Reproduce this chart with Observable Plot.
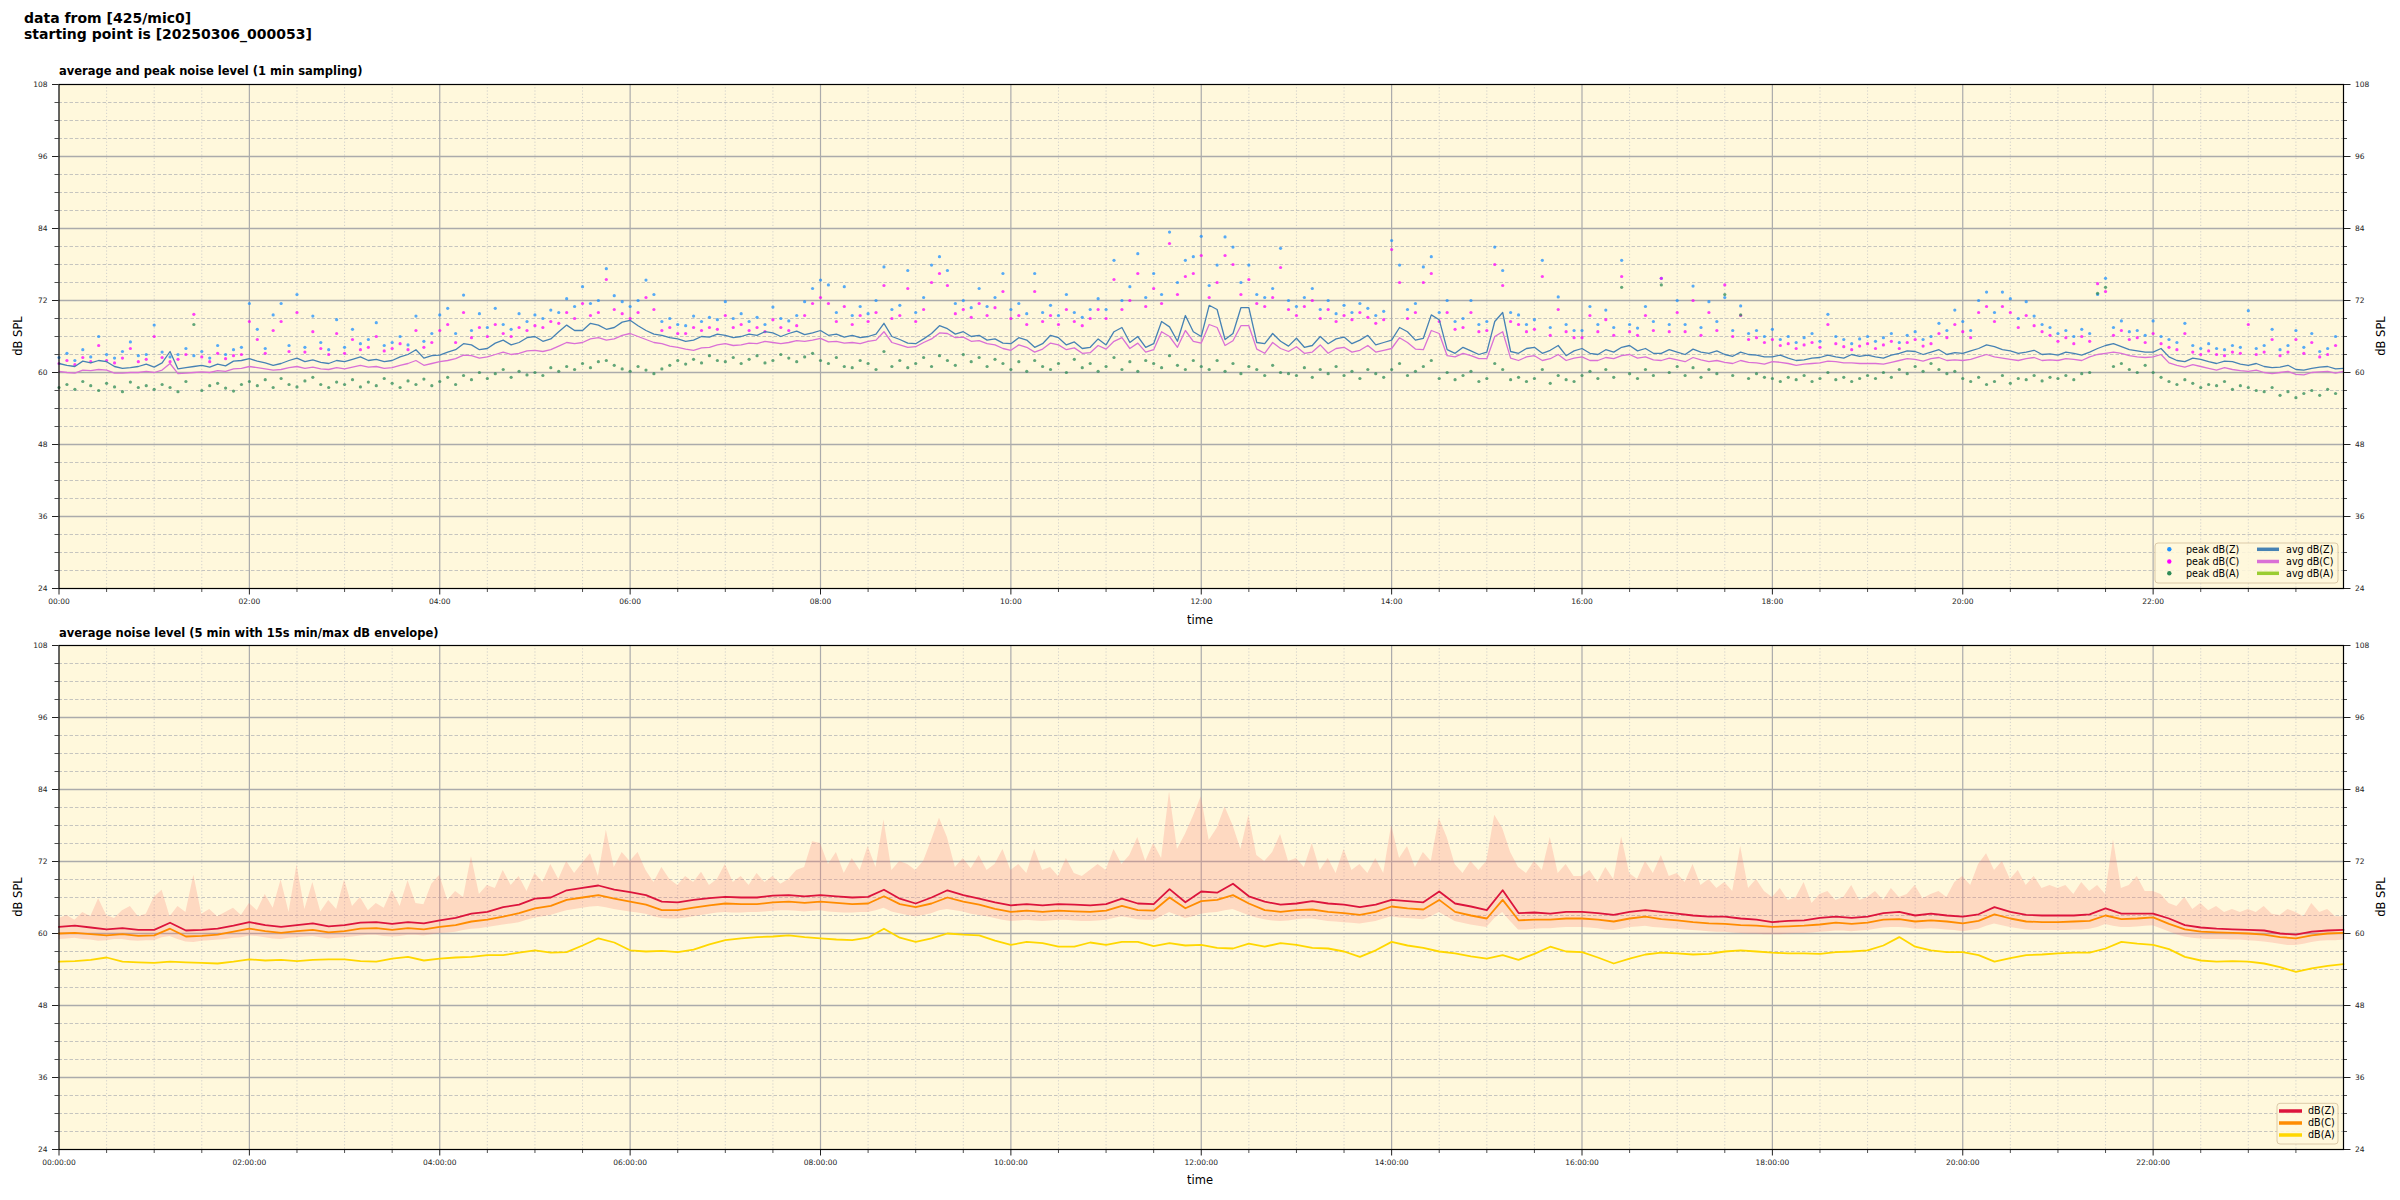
<!DOCTYPE html>
<html><head><meta charset="utf-8">
<script src="https://cdn.jsdelivr.net/npm/d3@7"></script>
<script src="https://cdn.jsdelivr.net/npm/@observablehq/plot@0.6"></script>
<style>
html,body{margin:0;padding:0;background:#fff;}
#page{position:relative;width:2400px;height:1200px;overflow:hidden;font-family:"DejaVu Sans",sans-serif;}
#page svg{position:absolute;left:0;max-width:none;}
</style></head><body><div id="page"></div>
<script>
// ---- data: top panel (1 min sampling), avg lines and peaks read every 5 min ----
const avgZ = [61.5,61.2,61.0,61.9,61.6,62.0,61.8,61.0,60.7,60.8,61.0,61.4, 60.9,61.6,63.5,60.6,60.8,61.0,61.2,60.9,61.4,61.1,61.9,62.0, 62.3,61.9,61.6,61.2,61.5,62.0,62.4,61.8,62.1,61.7,61.5,62.0, 61.8,62.2,62.6,62.0,62.2,61.8,62.0,62.6,63.0,63.8,62.4,62.8, 62.9,63.4,63.8,64.8,64.6,63.8,64.0,64.9,65.4,64.6,65.0,65.8, 66.0,65.2,65.6,66.8,67.9,67.0,67.0,68.2,67.9,67.2,67.5,68.4, 68.7,67.8,67.0,66.4,66.2,65.8,65.6,65.2,65.4,66.0,65.9,66.4, 66.2,65.8,66.0,66.4,66.2,66.8,66.6,66.0,66.5,66.9,66.3,66.6, 67.0,66.2,66.4,65.9,66.2,65.8,66.0,66.4,68.2,66.0,65.5,64.9, 64.8,65.6,66.5,67.8,67.3,66.4,66.8,66.0,66.2,65.4,65.6,64.9, 64.8,65.8,65.4,64.2,64.8,66.2,65.8,64.6,65.1,64.0,64.2,65.6, 64.6,66.8,67.5,65.0,66.0,64.2,64.8,68.5,67.6,65.2,69.5,66.8, 66.0,71.2,70.5,65.5,66.5,70.8,70.8,65.0,64.8,66.5,65.2,64.4, 65.7,64.2,64.5,66.0,64.8,65.6,65.9,64.8,65.4,66.2,64.6,65.0, 65.4,67.5,66.8,65.4,65.7,69.6,68.8,63.8,63.2,64.2,63.6,63.0, 63.4,68.5,70.0,63.5,63.2,64.0,64.2,63.2,63.7,64.5,62.8,63.6, 64.0,63.2,63.0,63.8,63.4,64.2,64.5,63.6,64.0,63.2,63.2,63.8, 63.4,63.0,63.9,63.4,63.2,63.6,63.0,62.7,63.4,63.0,62.9,62.6, 62.6,62.9,62.4,62.0,62.1,62.4,62.5,62.9,62.6,62.4,63.0,62.7, 62.9,62.6,62.4,62.9,63.2,63.6,63.5,63.0,63.4,63.8,63.0,63.3, 63.2,63.6,64.0,64.6,64.3,63.8,63.6,63.2,63.4,63.7,63.0,63.1, 62.9,63.4,63.2,62.9,63.4,64.0,64.5,64.8,64.3,63.8,63.6,63.4, 63.4,64.0,62.6,62.0,61.8,62.4,62.2,61.8,61.5,61.9,61.8,61.4, 61.2,61.5,61.0,60.8,60.9,61.2,60.5,60.4,60.7,60.9,61.0,60.6, 60.7];
const avgC = [60.2,60.0,59.9,60.4,60.3,60.5,60.4,59.9,59.9,60.0,60.0,60.2, 60.0,60.4,61.5,59.8,59.9,60.0,60.1,60.0,60.3,60.2,60.6,60.7, 61.0,60.8,60.6,60.4,60.5,60.8,61.0,60.7,60.9,60.6,60.5,60.8, 60.6,60.9,61.2,60.9,61.0,60.7,60.8,61.2,61.5,62.0,61.2,61.5, 61.8,62.0,62.3,62.9,62.8,62.4,62.6,63.0,63.4,63.0,63.2,63.6, 63.7,63.5,63.8,64.4,65.0,64.8,65.0,65.6,65.8,65.4,65.6,66.2, 66.5,66.0,65.5,65.0,64.8,64.4,64.2,63.9,63.7,64.1,64.2,64.6, 64.8,64.5,64.6,64.9,64.8,65.2,65.0,64.8,65.0,65.3,65.2,65.4, 65.7,65.1,65.2,64.9,65.0,64.8,65.2,65.4,66.8,65.0,64.6,64.2, 64.3,65.0,65.6,66.6,66.5,65.8,65.9,65.2,65.3,64.8,64.6,64.0, 63.7,64.6,64.2,63.4,63.9,64.9,64.6,63.8,64.1,63.2,63.3,64.5, 63.9,65.2,65.8,64.0,64.9,63.4,63.8,66.8,66.0,64.2,67.0,65.2, 64.9,68.0,67.5,64.5,65.3,67.8,67.8,63.9,63.2,65.0,64.0,63.5, 64.3,63.2,63.4,64.6,63.2,64.0,64.2,63.4,63.7,64.5,63.4,63.7, 64.0,65.8,65.0,63.9,63.8,67.0,66.5,62.8,62.6,63.2,62.8,62.3, 62.3,66.0,66.8,62.4,62.0,62.6,62.8,62.0,62.3,63.0,62.0,62.4, 62.6,62.0,62.0,62.5,62.3,62.8,63.0,62.4,62.6,62.1,62.0,62.4, 62.1,61.8,62.5,62.1,61.8,62.0,61.7,61.5,62.0,61.7,61.6,61.4, 61.8,61.7,61.5,61.2,61.4,61.5,61.6,61.9,61.8,61.6,61.6,61.5, 61.5,61.5,61.4,61.7,62.0,62.3,62.2,61.9,62.3,62.5,62.0,62.1, 62.0,62.2,62.6,63.0,62.6,62.4,62.2,62.0,62.3,62.5,62.0,62.1, 62.0,62.3,62.2,62.0,62.6,63.0,63.2,63.4,63.2,62.8,62.6,62.5, 62.6,63.0,61.6,61.2,60.9,61.3,61.0,60.7,60.4,60.8,60.5,60.3, 60.2,60.4,60.0,59.8,60.0,60.2,59.7,59.6,60.0,60.1,60.2,59.9, 60.2];
const avgA = [55.1,55.6,55.3,55.0,56.0,55.8,55.6,55.2,55.4,55.8,55.0,55.3, 54.8,55.2,55.6,55.9,55.4,54.9,55.0,55.4,55.1,54.8,55.5,55.8, 56.2,55.8,56.0,56.3,55.7,55.5,56.0,55.6,55.4,55.2,55.8,56.0, 55.7,55.3,55.5,56.0,55.1,55.4,56.0,55.7,55.4,55.9,55.7,56.1, 56.0,55.6,55.8,56.4,56.2,56.8,56.6,57.0,57.3,56.8,57.0,57.4, 57.0,57.4,57.5,57.0,57.3,57.8,58.2,58.8,59.5,59.0,58.6,57.8, 57.6,57.8,57.4,56.9,56.8,56.9,57.0,58.2,59.3,59.6,59.5,59.2, 59.5,59.8,59.7,59.4,59.8,60.0,59.4,59.6,59.8,59.5,59.3,59.6, 59.4,59.0,59.2,59.5,59.0,59.4,59.3,59.0,61.5,59.5,58.6,58.4, 58.7,59.4,59.5,60.3,60.1,59.8,60.0,59.5,59.6,58.8,58.8,59.2, 57.6,58.4,59.8,58.8,59.3,58.0,58.6,59.4,57.9,58.2,59.0,58.5, 58.2,57.5,59.2,58.0,57.6,58.8,58.5,57.8,59.5,58.2,57.6,57.0, 57.0,58.6,58.3,57.8,58.2,57.2,57.5,58.4,57.9,57.2,58.5,57.8, 57.3,58.0,57.0,56.5,56.8,57.5,57.6,58.0,57.9,56.8,57.5,57.9, 58.0,57.5,57.2,56.8,57.0,57.8,57.6,56.5,56.2,57.2,56.8,56.2, 57.0,57.8,57.5,56.6,56.8,56.2,56.2,56.8,56.2,55.8,56.6,57.2, 57.6,56.5,55.8,56.6,56.8,57.2,57.0,58.4,58.4,57.2,57.0,56.6, 56.8,57.4,57.3,56.9,57.0,57.4,56.8,57.2,57.0,56.8,57.2,57.0, 56.8,57.0,57.0,56.6,56.8,57.1,57.2,56.9,56.8,56.6,56.6,56.9, 56.8,57.2,57.4,57.8,57.6,58.5,58.2,58.6,59.0,58.2,57.8,57.2, 56.8,56.6,56.4,55.8,55.4,55.3,55.6,56.2,56.8,57.0,57.0,56.8, 57.0,56.6,56.8,57.0,56.8,57.6,58.5,59.8,59.3,58.6,58.0,58.4, 58.2,57.6,56.6,56.2,56.0,56.4,56.4,56.0,56.0,55.6,55.8,55.4, 55.1,55.8,55.6,55.0,54.8,54.2,53.4,53.2,54.2,54.6,54.6,54.9, 54.8];
const peakZ = [62.5,63.2,62.0,63.8,62.6,66.0,63.0,62.4,63.5,65.1,62.8,63.0, 67.9,63.4,62.6,63.0,64.0,62.8,63.5,62.4,64.5,63.0,63.8,64.2, 71.5,67.2,64.0,69.6,71.5,64.5,73.0,64.2,69.4,65.0,63.8,68.8, 64.2,67.2,64.8,65.5,68.3,64.5,65.0,66.0,64.6,69.4,65.2,66.5, 69.6,70.7,66.5,72.9,67.0,69.8,67.5,70.7,68.0,67.2,69.8,68.5, 69.6,69.0,70.4,70.0,72.3,71.0,74.3,71.5,72.0,77.3,72.8,71.8, 71.0,72.0,75.4,73.0,68.5,69.0,68.0,67.8,69.4,68.5,69.2,68.8, 71.8,69.0,69.8,68.5,69.2,68.0,70.9,69.0,68.6,69.5,71.8,74.0, 75.4,74.6,70.0,74.3,69.5,71.0,69.8,72.0,77.6,70.5,71.2,77.0, 70.0,72.5,77.9,79.3,77.0,71.5,72.0,70.8,74.0,71.0,72.5,76.5, 70.5,71.5,69.8,76.5,70.0,71.2,69.5,73.0,70.0,69.2,70.5,72.3, 70.5,78.7,72.0,74.3,79.8,72.5,76.5,73.0,83.4,75.0,78.7,79.3, 82.7,74.5,77.9,82.6,80.9,75.0,77.9,73.0,72.5,74.0,80.7,72.0, 71.0,72.5,74.0,70.5,72.0,69.8,71.2,70.0,71.5,70.7,69.5,70.2, 82.0,77.9,70.5,71.5,77.6,79.3,70.0,72.0,68.5,69.0,72.0,68.0, 68.5,80.9,77.0,70.0,69.6,68.0,68.8,78.7,67.5,72.6,68.0,67.0, 67.0,71.0,68.0,70.4,67.5,78.7,68.0,67.4,71.0,68.5,75.7,68.0, 72.0,68.0,74.4,67.5,71.8,68.5,72.5,67.0,71.1,66.5,67.0,66.0, 67.2,65.5,66.0,65.0,65.8,66.5,65.2,69.7,66.0,65.5,64.8,65.6, 66.0,65.2,65.8,66.5,65.0,66.2,66.8,65.5,66.0,68.2,67.0,70.4, 68.5,67.0,72.0,73.4,70.0,73.4,72.3,69.0,71.8,69.4,68.0,67.5, 66.5,67.0,66.0,67.2,66.5,73.0,75.7,67.5,68.6,66.8,67.0,66.2, 68.6,66.0,65.5,65.0,68.2,64.5,64.0,64.8,64.0,63.8,64.5,64.2, 70.3,64.0,64.5,67.2,63.8,64.5,67.0,64.2,66.5,63.5,64.0,66.0];
const peakC = [61.5,62.0,61.3,62.5,61.8,64.5,62.0,61.6,62.4,64.0,61.8,62.2, 66.0,62.5,61.8,62.2,63.0,69.7,62.6,61.8,63.2,62.3,62.8,63.0, 68.5,65.5,63.2,67.0,68.5,63.5,70.0,63.4,66.8,64.0,63.0,66.5, 63.2,65.5,63.8,64.2,66.0,63.6,64.0,64.8,63.8,67.0,64.2,65.0, 67.0,68.0,65.0,70.0,65.8,67.5,66.0,68.0,66.5,66.0,67.5,67.0, 67.8,67.5,68.5,68.2,70.0,69.0,71.5,69.5,70.0,75.5,70.5,69.8, 69.0,70.0,72.5,70.5,67.0,67.5,66.5,66.5,67.5,67.0,67.5,67.2, 69.5,67.5,68.0,67.0,67.5,66.8,68.8,67.5,67.0,67.8,69.5,71.5, 72.5,71.5,68.5,71.0,68.0,69.5,68.5,70.0,74.5,69.0,69.5,74.0, 68.5,70.5,75.0,76.5,74.5,69.8,70.5,69.2,71.5,69.5,70.8,73.5, 69.0,69.5,68.0,73.5,68.5,69.5,68.0,70.5,68.5,67.8,69.0,70.5, 69.0,75.5,70.5,72.0,76.5,71.0,74.0,71.5,81.5,73.0,76.0,76.5, 79.5,72.5,75.0,79.5,78.0,73.0,75.5,71.5,71.0,72.5,77.5,70.5, 69.5,71.0,72.0,69.0,70.5,68.5,69.5,68.8,70.0,69.2,68.2,68.8, 80.5,75.0,69.0,70.0,75.0,76.5,68.5,70.0,67.2,67.5,70.0,66.8, 67.0,78.0,74.5,68.5,68.0,66.8,67.2,76.0,66.2,70.5,66.8,65.8, 65.8,69.5,66.8,68.8,66.2,76.0,66.8,66.2,69.5,67.0,75.7,66.8, 70.0,66.8,72.0,66.2,70.0,67.0,74.6,66.0,69.5,65.5,65.8,65.0, 65.5,64.5,64.8,64.0,64.6,65.0,64.2,68.0,64.8,64.3,63.8,64.4, 64.8,64.0,64.6,65.2,64.0,65.0,65.5,64.4,64.8,66.5,65.8,68.0, 66.8,65.8,70.0,71.0,68.5,71.0,70.0,67.5,69.5,67.8,66.8,66.2, 65.2,65.8,64.8,66.0,65.2,74.8,73.5,66.2,67.0,65.5,65.8,65.0, 66.5,64.8,64.2,63.8,66.5,63.4,63.0,63.6,63.0,62.8,63.4,63.2, 68.0,63.0,63.4,65.5,62.8,63.4,65.5,63.2,65.0,62.6,63.0,64.5];
const peakA = [57.5,58.0,57.2,58.5,57.8,57.0,58.2,57.6,56.8,58.4,57.5,57.8, 57.2,58.0,57.5,56.8,58.5,68.0,57.0,57.8,58.2,57.4,56.9,58.0, 58.5,57.8,58.8,57.5,59.0,58.0,57.6,58.6,59.2,58.0,57.5,58.4, 58.0,58.8,57.6,58.4,57.8,59.0,58.2,57.5,58.6,58.0,58.9,57.8, 58.5,59.2,58.0,59.5,58.8,60.0,59.0,59.8,60.5,59.2,60.2,59.6, 60.0,59.5,60.8,60.2,61.0,60.5,61.5,60.8,61.8,62.0,61.2,60.6, 60.2,61.0,60.4,59.8,60.6,61.2,62.0,61.4,62.2,61.6,62.8,62.0, 61.8,62.5,61.5,62.2,62.8,61.6,62.0,63.0,62.4,61.8,62.6,63.2, 62.0,61.5,62.5,61.0,60.8,62.0,61.5,60.5,63.5,61.0,62.0,60.8, 61.5,62.5,61.0,62.8,62.0,61.2,63.0,61.8,62.5,61.0,62.2,61.5, 60.5,61.8,60.2,62.0,61.0,60.5,61.5,60.0,62.2,60.8,61.5,60.2, 61.0,62.5,60.5,61.8,60.2,62.0,61.5,60.8,62.8,61.2,60.5,62.0, 61.0,60.5,62.0,60.2,61.5,59.8,61.0,60.5,59.5,61.2,60.0,59.8, 59.5,60.8,59.2,60.5,59.8,61.0,59.5,60.2,59.0,60.5,59.8,59.2, 60.5,61.5,59.5,60.2,61.0,62.0,59.0,60.0,58.8,59.5,60.2,58.5, 59.0,61.5,60.5,58.8,59.2,58.5,59.0,60.5,58.2,59.5,58.8,58.5, 59.5,60.2,59.0,60.5,59.2,74.2,59.8,59.0,60.5,59.5,74.6,60.0, 61.0,59.5,60.8,59.2,60.5,59.8,73.0,59.5,69.6,59.0,59.8,59.2, 59.0,58.5,59.2,58.8,59.5,58.5,59.0,60.0,58.8,59.2,58.5,59.0, 59.5,59.0,60.0,59.2,60.5,59.8,61.0,60.2,61.5,60.5,59.8,60.2, 59.0,58.5,59.2,58.0,58.5,59.5,58.2,59.0,58.8,59.5,58.6,59.2, 59.0,59.5,58.8,59.8,60.0,73.2,74.2,61.0,61.5,60.5,60.0,61.2, 60.0,59.2,58.5,58.0,58.8,58.2,57.5,58.0,57.8,58.5,57.2,57.8, 57.5,57.0,56.8,57.5,56.2,56.8,55.8,56.5,57.0,56.2,57.2,56.5];

// ---- data: bottom panel (5 min average, read every 10 min; 15 s min/max envelope read every 5 min) ----
const avg5Z = [61.1,61.3,61.0,60.7,60.9,60.6, 60.6,61.8,60.5,60.6,60.8,61.3, 61.9,61.4,61.1,61.4,61.7,61.2, 61.4,61.8,61.9,61.6,61.9,61.7, 62.2,62.6,63.3,63.6,64.4,64.8, 65.8,66.0,67.2,67.6,68.0,67.3, 66.9,66.4,65.3,65.2,65.6,65.9, 66.1,66.0,66.0,66.3,66.4,66.2, 66.4,66.2,66.0,66.1,67.3,65.8, 65.0,66.0,67.2,66.4,65.8,65.2, 64.7,64.9,64.7,64.9,64.8,64.7, 64.9,65.8,65.0,64.9,67.4,65.2, 67.0,66.8,68.3,66.2,65.3,64.8, 65.0,65.4,65.0,64.8,64.4,64.8, 65.6,65.4,65.2,67.0,65.0,64.5, 63.9,67.2,63.4,63.5,63.3,63.6, 63.6,63.4,63.1,63.6,63.9,63.6, 63.3,63.0,62.8,62.8,62.5,62.3, 61.9,62.1,62.2,62.6,62.8,62.6, 62.8,63.4,63.6,63.0,63.3,63.0, 62.8,63.2,64.4,63.6,63.1,63.0, 63.0,63.0,63.2,64.2,63.3,63.3, 63.3,62.5,61.4,61.0,60.8,60.7, 60.6,60.5,60.0,59.8,60.3,60.5, 60.6];
const avg5C = [60.0,60.1,59.9,59.7,59.9,59.6, 59.7,60.8,59.5,59.6,59.8,60.3, 60.8,60.4,60.1,60.4,60.6,60.2, 60.4,60.8,60.9,60.6,60.9,60.7, 61.1,61.4,62.0,62.3,62.8,63.4, 64.2,64.6,65.6,66.0,66.4,65.8, 65.3,64.8,63.9,63.9,64.3,64.7, 65.0,64.9,64.9,65.2,65.3,65.1, 65.3,65.1,64.9,65.0,66.2,64.9, 64.4,65.0,66.0,65.3,64.8,64.1, 63.6,63.8,63.6,63.8,63.7,63.6, 63.8,64.6,63.9,63.8,66.0,64.2, 65.4,65.6,66.4,65.0,63.9,63.6, 63.9,64.0,63.6,63.4,63.1,63.6, 64.5,64.2,64.0,65.6,63.6,63.0, 62.5,65.6,62.2,62.3,62.3,62.5, 62.5,62.3,62.0,62.5,62.8,62.4, 62.2,61.9,61.7,61.6,61.4,61.3, 61.1,61.2,61.3,61.5,61.8,61.6, 61.8,62.3,62.4,62.0,62.2,62.0, 61.7,62.1,63.2,62.5,62.0,61.9, 61.9,62.0,62.1,63.0,62.4,62.5, 62.7,61.6,60.7,60.3,60.2,60.1, 60.0,59.8,59.4,59.2,59.7,60.0, 60.1];
const avg5A = [55.3,55.4,55.6,56.0,55.3,55.2, 55.1,55.3,55.2,55.1,55.0,55.3, 55.7,55.5,55.6,55.4,55.6,55.7, 55.7,55.4,55.3,55.8,56.1,55.5, 55.8,56.0,56.1,56.4,56.4,56.8, 57.2,56.8,56.9,58.0,59.2,58.5, 57.2,57.0,57.1,56.9,57.3,58.2, 58.9,59.2,59.4,59.5,59.7,59.4, 59.2,59.0,58.9,59.3,60.8,59.3, 58.6,59.2,60.0,59.8,59.7,58.8, 58.1,58.6,58.4,57.8,57.8,58.5, 58.1,58.6,58.6,57.9,58.4,58.0, 58.1,57.6,57.5,58.3,57.8,58.4, 58.1,57.6,57.5,57.0,56.1,57.2, 58.6,58.0,57.6,57.0,56.7,56.2, 55.8,56.4,55.6,56.6,57.8,57.0, 56.9,56.0,55.0,55.8,56.5,56.8, 56.7,56.5,56.6,57.0,57.2,57.0, 56.8,56.7,56.7,56.6,56.9,57.0, 57.2,58.0,59.4,57.8,57.2,56.9, 56.9,56.4,55.3,55.9,56.4,56.5, 56.7,56.8,56.8,57.5,58.6,58.3, 58.1,57.4,56.1,55.5,55.3,55.4, 55.3,55.0,54.4,53.6,54.2,54.6, 54.9];
const envMax = [62.5,63.0,62.2,63.5,62.8,65.8,63.0,62.5,63.8,64.5,62.8,63.2, 66.0,67.2,62.8,64.5,63.5,69.7,63.2,64.0,62.8,63.5,64.2,63.0, 65.0,63.8,66.5,64.2,68.9,63.5,71.4,64.0,68.5,63.6,65.5,64.0, 68.9,64.5,66.0,63.8,65.0,64.2,67.2,64.5,68.8,65.0,64.8,68.2, 69.7,65.5,67.0,66.0,72.8,66.5,68.0,67.5,70.5,68.0,69.5,67.0, 70.0,68.5,71.5,69.0,72.0,70.0,71.7,73.3,69.5,77.2,71.0,73.5, 72.0,73.5,70.5,68.5,71.0,69.0,68.0,69.5,68.5,70.2,68.0,69.0, 71.5,68.5,69.5,68.0,70.0,68.5,69.5,68.2,69.0,70.5,71.0,75.3, 75.0,71.5,73.5,70.0,72.5,70.5,74.5,71.0,78.9,70.5,72.0,71.5, 70.5,72.0,75.5,79.2,76.0,71.0,72.5,70.8,73.0,70.5,71.5,74.0, 70.5,71.5,70.0,74.0,70.5,71.0,69.5,72.5,70.0,69.5,70.5,71.5, 70.5,74.0,71.5,73.0,76.0,72.0,75.0,72.5,83.6,74.0,76.5,79.5, 82.8,75.5,77.5,81.1,78.0,74.0,79.7,73.0,72.0,73.5,76.5,72.0, 72.5,71.0,75.0,70.5,72.5,70.0,74.0,70.5,71.5,70.0,72.5,70.0, 78.0,72.5,74.5,71.0,73.5,72.0,79.2,76.0,71.5,70.0,72.0,70.5, 72.0,79.7,77.5,73.5,71.0,70.0,72.0,70.5,76.0,70.0,71.5,69.5, 69.5,70.5,68.5,71.0,69.0,76.1,70.0,69.0,72.0,70.0,73.0,69.5, 70.0,68.5,71.5,68.0,69.0,67.5,68.5,67.0,74.5,67.5,69.0,67.0, 66.0,67.5,65.5,66.0,68.5,65.0,66.5,67.0,65.5,66.0,68.0,65.5, 66.0,67.0,65.5,67.5,66.0,66.5,68.0,65.8,66.5,67.0,66.0,68.5, 69.5,68.0,71.5,73.3,70.5,72.0,69.0,70.5,68.0,69.5,67.5,68.0, 67.5,68.0,66.5,68.5,67.0,68.0,66.5,75.6,67.5,68.0,69.5,67.0, 67.0,66.5,65.0,64.5,66.0,64.0,65.0,63.8,64.5,63.5,64.0,63.5, 64.0,63.5,64.5,63.2,63.0,64.0,63.5,62.8,65.0,63.5,64.0,62.8, 62.8];
const envMin = [59.0,59.1,59.2,59.0,58.9,58.7,58.8,59.0,59.0,58.8,58.7,58.8, 58.8,59.3,59.5,59.0,58.6,58.5,58.7,58.8,58.9,59.0,59.2,59.3, 59.6,59.5,59.3,59.1,59.0,59.2,59.3,59.4,59.5,59.3,59.1,59.2, 59.3,59.4,59.6,59.7,59.7,59.5,59.4,59.5,59.7,59.7,59.6,59.8, 60.0,60.1,60.2,60.5,60.7,60.8,61.0,61.2,61.4,61.6,61.8,62.2, 62.6,62.8,63.0,63.4,63.8,64.0,64.2,64.4,64.5,64.3,64.0,63.8, 63.6,63.4,63.2,62.8,62.5,62.4,62.4,62.6,62.8,63.0,63.2,63.4, 63.5,63.4,63.4,63.5,63.5,63.6,63.7,63.8,63.8,63.7,63.6,63.7, 63.8,63.6,63.5,63.4,63.4,63.5,63.5,63.8,64.2,63.6,63.3,63.0, 62.8,63.0,63.3,63.8,64.0,63.8,63.6,63.2,63.0,62.8,62.5,62.2, 62.0,62.1,62.2,62.1,62.0,62.1,62.2,62.2,62.1,62.0,62.0,62.1, 62.2,62.5,62.8,62.6,62.3,62.2,62.2,62.8,63.5,63.0,62.5,62.8, 63.2,63.4,63.5,63.8,64.0,63.5,63.0,62.6,62.3,62.1,62.0,62.1, 62.3,62.4,62.4,62.2,62.0,61.9,61.8,61.7,61.6,61.8,62.0,62.4, 62.8,62.6,62.5,62.4,62.3,62.8,63.5,62.8,62.0,61.7,61.4,61.2, 61.0,62.5,63.5,62.0,60.6,60.6,60.7,60.8,60.8,60.9,61.0,61.0, 61.0,60.9,60.8,60.6,60.5,60.7,61.0,61.1,61.2,61.0,60.9,60.8, 60.7,60.6,60.5,60.4,60.3,60.2,60.2,60.1,60.0,59.9,59.9,59.8, 59.8,59.8,59.9,60.0,60.0,60.1,60.2,60.3,60.4,60.4,60.3,60.4, 60.5,60.7,60.9,61.0,61.0,60.9,60.7,60.7,60.8,60.7,60.6,60.5, 60.3,60.5,60.7,61.2,61.6,61.3,61.0,60.8,60.6,60.5,60.5,60.5, 60.5,60.5,60.6,60.6,60.7,61.0,61.5,61.2,61.0,61.0,61.1,61.2, 61.3,60.8,60.3,59.8,59.4,59.2,59.1,59.0,59.0,59.0,58.9,58.9, 58.8,58.7,58.6,58.4,58.2,58.0,58.0,58.2,58.5,58.7,58.8,58.8, 58.9];

// ---- ticks / texts ----
const hourTicks = [0,2,4,6,8,10,12,14,16,18,20,22];
const dbTicks = [24,36,48,60,72,84,96,108];
const suptitle = ["data from [425/mic0]", "starting point is [20250306_000053]"];
const titleTop = "average and peak noise level (1 min sampling)";
const titleBottom = "average noise level (5 min with 15s min/max dB envelope)";
const legendTop = [["peak dB(Z)","peak dB(C)","peak dB(A)"],["avg dB(Z)","avg dB(C)","avg dB(A)"]];
const legendBottom = ["dB(Z)","dB(C)","dB(A)"];

// ---- layout / style ----
const W = 2400, ML = 58.5, MR = 57, BG = "#fff8dc";
const pxPerMin = (W - ML - MR) / 1440, pxPerDb = 6;
const pad2 = n => String(n).padStart(2, "0");
const xMajor = hourTicks.map(h => h * 60);
const xMinor = d3.range(30, 1440, 30).filter(d => d % 120);
const yMinor = d3.range(27, 108, 3).filter(d => (d - 24) % 12);
const rows = (ts, vs) => ts.map((t, i) => ({t, v: vs[i]}));
const TA = avgZ.map((_, i) => i * 5);
const TP = peakZ.map((_, i) => i * 5);
const T10 = avg5Z.map((_, i) => i * 10);
const TE = envMax.map((_, i) => i * 5);

function background() {
  return [
    Plot.frame({fill: BG}),
    Plot.ruleY(yMinor, {stroke: "#b8b8b8", strokeWidth: 0.8, strokeDasharray: "3.5,2"}),
    Plot.ruleX(xMinor, {stroke: "#c8c8c8", strokeWidth: 0.8, strokeDasharray: "1.2,2"}),
    Plot.ruleY(dbTicks.slice(1, -1), {stroke: "#ababab", strokeWidth: 1.4}),
    Plot.ruleX(xMajor.slice(1), {stroke: "#ababab", strokeWidth: 1.2})
  ];
}
function foreground() {
  const m = 4 / pxPerMin, d = 4 / pxPerDb;
  return [
    Plot.ruleY(yMinor, {x1: 0, x2: -m, stroke: "#222", strokeWidth: 0.8}),
    Plot.ruleY(yMinor, {x1: 1440, x2: 1440 + m, stroke: "#222", strokeWidth: 0.8}),
    Plot.ruleX(xMinor, {y1: 24, y2: 24 - d, stroke: "#222", strokeWidth: 0.8}),
    Plot.frame({stroke: "#000", strokeWidth: 1.2})
  ];
}
const commonStyle = {background: "transparent", fontFamily: "DejaVu Sans", fontSize: "7.5px", color: "#222", overflow: "visible"};
const yOpts = {domain: [24, 108], ticks: dbTicks, tickSize: 6.5, tickPadding: 5, label: null, axis: "both"};

const topPlot = Plot.plot({
  width: W, height: 566, marginTop: 20, marginBottom: 42, marginLeft: ML, marginRight: MR,
  style: commonStyle,
  x: {domain: [0, 1440], ticks: xMajor, tickFormat: d => pad2(d / 60) + ":00", tickSize: 6.5, tickPadding: 4, label: null},
  y: yOpts,
  marks: [
    ...background(),
    Plot.dot(rows(TP, peakZ), {x: "t", y: "v", r: 1.6, fill: "dodgerblue", fillOpacity: 0.75}),
    Plot.dot(rows(TP, peakC), {x: "t", y: "v", r: 1.6, fill: "magenta", fillOpacity: 0.75}),
    Plot.dot(rows(TP, peakA), {x: "t", y: "v", r: 1.6, fill: "seagreen", fillOpacity: 0.75}),
    Plot.line(rows(TA, avgZ), {x: "t", y: "v", stroke: "steelblue", strokeWidth: 1.3}),
    Plot.line(rows(TA, avgC), {x: "t", y: "v", stroke: "orchid", strokeWidth: 1.3}),
    Plot.line(rows(TA, avgA), {x: "t", y: "v", stroke: "yellowgreen", strokeWidth: 1.3}),
    ...foreground()
  ]
});

const bottomPlot = Plot.plot({
  width: W, height: 570, marginTop: 15, marginBottom: 51, marginLeft: ML, marginRight: MR,
  style: commonStyle,
  x: {domain: [0, 1440], ticks: xMajor, tickFormat: d => pad2(d / 60) + ":00:00", tickSize: 6.5, tickPadding: 4, label: null},
  y: yOpts,
  marks: [
    ...background(),
    Plot.areaY(TE.map((t, i) => ({t, lo: envMin[i], hi: envMax[i]})), {x: "t", y1: "lo", y2: "hi", fill: "salmon", fillOpacity: 0.26}),
    Plot.line(rows(T10, avg5Z), {x: "t", y: "v", stroke: "crimson", strokeWidth: 1.8}),
    Plot.line(rows(T10, avg5C), {x: "t", y: "v", stroke: "darkorange", strokeWidth: 1.8}),
    Plot.line(rows(T10, avg5A), {x: "t", y: "v", stroke: "gold", strokeWidth: 1.8}),
    ...foreground()
  ]
});

const page = document.getElementById("page");
topPlot.style.top = "64px";
bottomPlot.style.top = "630px";
page.appendChild(topPlot);
page.appendChild(bottomPlot);

// ---- overlay: titles, axis labels, legends ----
const T = (x, y, s, a = "") => `<text x="${x}" y="${y}" ${a}>${s}</text>`;
let o = "";
o += T(24, 23.3, suptitle[0], 'font-size="14" font-weight="bold"');
o += T(24, 38.5, suptitle[1], 'font-size="14" font-weight="bold"');
o += T(59, 75, titleTop, 'font-size="11.5" font-weight="bold"');
o += T(59, 636.5, titleBottom, 'font-size="11.5" font-weight="bold"');
const ylab = (x, y) => `<text transform="translate(${x},${y}) rotate(-90)" text-anchor="middle" dominant-baseline="central" font-size="11.5">dB SPL</text>`;
o += ylab(18, 336) + ylab(2381, 336) + ylab(18, 897) + ylab(2381, 897);
o += T(1200, 624, "time", 'font-size="11.5" text-anchor="middle"');
o += T(1200, 1184, "time", 'font-size="11.5" text-anchor="middle"');
// top legend
o += `<rect x="2155" y="543" width="183" height="40" rx="3" fill="${BG}" fill-opacity="0.85" stroke="#dccaa8"/>`;
const dotCols = ["dodgerblue", "magenta", "seagreen"], lineCols = ["steelblue", "orchid", "yellowgreen"];
[549.3, 561.5, 573.3].forEach((y, i) => {
  o += `<circle cx="2169.3" cy="${y}" r="2.2" fill="${dotCols[i]}"/>`;
  o += T(2186, y + 3.4, legendTop[0][i], 'font-size="9.6"');
  o += `<line x1="2257" x2="2279" y1="${y}" y2="${y}" stroke="${lineCols[i]}" stroke-width="3.5"/>`;
  o += T(2286, y + 3.4, legendTop[1][i], 'font-size="9.6"');
});
// bottom legend
o += `<rect x="2277" y="1103.3" width="61" height="40.7" rx="3" fill="${BG}" fill-opacity="0.85" stroke="#dccaa8"/>`;
const bCols = ["crimson", "darkorange", "gold"];
[1111, 1123, 1135].forEach((y, i) => {
  o += `<line x1="2279" x2="2302" y1="${y}" y2="${y}" stroke="${bCols[i]}" stroke-width="3.5"/>`;
  o += T(2308, y + 3.4, legendBottom[i], 'font-size="9.6"');
});
const ov = document.createElementNS("http://www.w3.org/2000/svg", "svg");
ov.setAttribute("width", W); ov.setAttribute("height", 1200);
ov.setAttribute("style", "position:absolute;left:0;top:0;pointer-events:none;font-family:'DejaVu Sans';fill:#000");
ov.innerHTML = o;
page.appendChild(ov);
</script></body></html>
